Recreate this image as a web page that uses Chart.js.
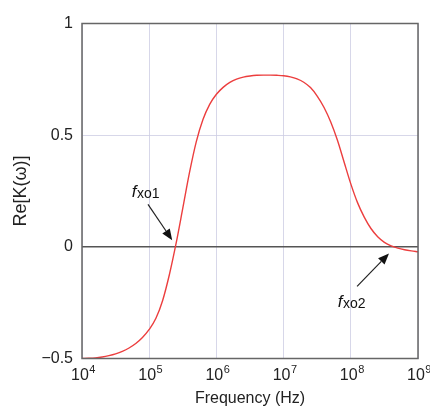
<!DOCTYPE html>
<html>
<head>
<meta charset="utf-8">
<script src="https://cdn.jsdelivr.net/npm/chart.js@4.4.0/dist/chart.umd.min.js"></script>
<style>
  body { margin: 0; background: #fff; }
  #wrap { width: 430px; height: 410px; position: relative; }
</style>
</head>
<body>
<div id="wrap"><canvas id="myChart"></canvas></div>
<script>
// frequency (Hz) and Re[K(w)], every 0.1 decade
var freqs = [
  1e4, 1.259e4, 1.585e4, 1.995e4, 2.512e4, 3.162e4, 3.981e4, 5.012e4, 6.31e4, 7.943e4,
  1e5, 1.259e5, 1.585e5, 1.995e5, 2.512e5, 3.162e5, 3.981e5, 5.012e5, 6.31e5, 7.943e5,
  1e6, 1.259e6, 1.585e6, 1.995e6, 2.512e6, 3.162e6, 3.981e6, 5.012e6, 6.31e6, 7.943e6,
  1e7, 1.259e7, 1.585e7, 1.995e7, 2.512e7, 3.162e7, 3.981e7, 5.012e7, 6.31e7, 7.943e7,
  1e8, 1.259e8, 1.585e8, 1.995e8, 2.512e8, 3.162e8, 3.981e8, 5.012e8, 6.31e8, 7.943e8,
  1e9];
var reK = [
  -0.500, -0.499, -0.497, -0.493, -0.487, -0.479, -0.468, -0.453, -0.433, -0.406,
  -0.370, -0.320, -0.240, -0.125, 0.015, 0.173, 0.333, 0.470, 0.570, 0.638,
  0.683, 0.714, 0.736, 0.751, 0.760, 0.765, 0.768, 0.769, 0.769, 0.768,
  0.766, 0.761, 0.752, 0.737, 0.713, 0.675, 0.625, 0.560, 0.478, 0.380,
  0.282, 0.198, 0.133, 0.082, 0.045, 0.020, 0.004, -0.006, -0.013, -0.018,
  -0.022];

var xTicks = [1e4, 1e5, 1e6, 1e7, 1e8, 1e9];
var xTickExp = ["4", "5", "6", "7", "8", "9"];
var yTicks = [-0.5, 0, 0.5, 1];
var yTickLabels = ["\u22120.5", "0", "0.5", "1"];

// crossover annotations (data coordinates)
var notes = [
  { main: "f", sub: "xo1", textAt: [5.5e4, 0.223], from: [9.6e4, 0.19], to: [2.2e5, 0.03] },
  { main: "f", sub: "xo2", textAt: [6.4e7, -0.268], from: [1.24e8, -0.177], to: [3.7e8, -0.03] }
];

var FONT = "'Liberation Sans', Arial, Helvetica, sans-serif";

function arrow(ctx, x1, y1, x2, y2) {
  var ang = Math.atan2(y2 - y1, x2 - x1);
  var len = 11, hw = 4.5;
  var bx = x2 - len * Math.cos(ang), by = y2 - len * Math.sin(ang);
  ctx.beginPath();
  ctx.moveTo(x1, y1);
  ctx.lineTo(bx, by);
  ctx.stroke();
  ctx.beginPath();
  ctx.moveTo(x2, y2);
  ctx.lineTo(bx + hw * Math.sin(ang), by - hw * Math.cos(ang));
  ctx.lineTo(bx - hw * Math.sin(ang), by + hw * Math.cos(ang));
  ctx.closePath();
  ctx.fill();
}

var extras = {
  id: "extras",
  afterDraw: function (chart) {
    var ctx = chart.ctx, xs = chart.scales.x, ys = chart.scales.y, a = chart.chartArea;
    ctx.save();
    // frame
    ctx.strokeStyle = "#666";
    ctx.lineWidth = 1.5;
    ctx.strokeRect(a.left, a.top, a.right - a.left, a.bottom - a.top);
    // x tick labels 10^n
    ctx.fillStyle = "#222";
    ctx.textBaseline = "alphabetic";
    ctx.textAlign = "left";
    xTicks.forEach(function (v, i) {
      var px = xs.getPixelForValue(v);
      ctx.font = "16px " + FONT;
      var w1 = ctx.measureText("10").width;
      ctx.font = "11px " + FONT;
      var w2 = ctx.measureText(xTickExp[i]).width;
      var x0 = px - (w1 + w2) / 2 + 1;
      ctx.font = "16px " + FONT;
      ctx.fillText("10", x0, a.bottom + 21.5);
      ctx.font = "11px " + FONT;
      ctx.fillText(xTickExp[i], x0 + w1 + 0.5, a.bottom + 14);
    });
    // annotations
    ctx.strokeStyle = "#222";
    ctx.fillStyle = "#111";
    ctx.lineWidth = 1.2;
    notes.forEach(function (n) {
      var tx = xs.getPixelForValue(n.textAt[0]), ty = ys.getPixelForValue(n.textAt[1]);
      ctx.font = "italic 17px " + FONT;
      ctx.fillText(n.main, tx, ty);
      var wf = ctx.measureText(n.main).width;
      ctx.font = "14px " + FONT;
      ctx.fillText(n.sub, tx + wf + 0.5, ty + 1);
      arrow(ctx,
        xs.getPixelForValue(n.from[0]), ys.getPixelForValue(n.from[1]),
        xs.getPixelForValue(n.to[0]), ys.getPixelForValue(n.to[1]));
    });
    ctx.restore();
  }
};

new Chart("myChart", {
  type: "line",
  data: {
    datasets: [{
      data: freqs.map(function (f, i) { return { x: f, y: reK[i] }; }),
      borderColor: "rgb(236,62,62)",
      borderWidth: 1.4,
      pointRadius: 0,
      cubicInterpolationMode: "monotone",
      fill: false
    }]
  },
  options: {
    responsive: true,
    maintainAspectRatio: false,
    animation: false,
    layout: { padding: { top: 23.5, right: 12, left: 0, bottom: 0 } },
    plugins: { legend: { display: false }, tooltip: { enabled: false } },
    scales: {
      x: {
        type: "logarithmic",
        min: 1e4,
        max: 1e9,
        afterBuildTicks: function (scale) {
          scale.ticks = xTicks.map(function (v) { return { value: v }; });
        },
        afterFit: function (scale) { scale.height = 51.5; },
        ticks: { callback: function () { return ""; } },
        grid: { color: "rgba(205,205,228,0.8)", lineWidth: 1, drawTicks: false },
        border: { display: false },
        title: {
          display: true,
          text: "Frequency (Hz)",
          color: "#222",
          font: { family: FONT, size: 16 },
          padding: { top: 0, bottom: 2 }
        }
      },
      y: {
        min: -0.5,
        max: 1,
        afterBuildTicks: function (scale) {
          scale.ticks = yTicks.map(function (v) { return { value: v }; });
        },
        afterFit: function (scale) { scale.width = 82; },
        ticks: {
          color: "#222",
          padding: 9,
          font: { family: FONT, size: 16 },
          callback: function (v) { return yTickLabels[yTicks.indexOf(v)]; }
        },
        grid: {
          drawTicks: false,
          color: function (c) { return c.tick && c.tick.value === 0 ? "#555" : "rgba(205,205,228,0.8)"; },
          lineWidth: function (c) { return c.tick && c.tick.value === 0 ? 1.5 : 1; }
        },
        border: { display: false },
        title: {
          display: true,
          text: "Re[K(\u03c9)]",
          color: "#222",
          font: { family: FONT, size: 18 },
          padding: { top: 10, bottom: 4 }
        }
      }
    }
  },
  plugins: [extras]
});
</script>
</body>
</html>
